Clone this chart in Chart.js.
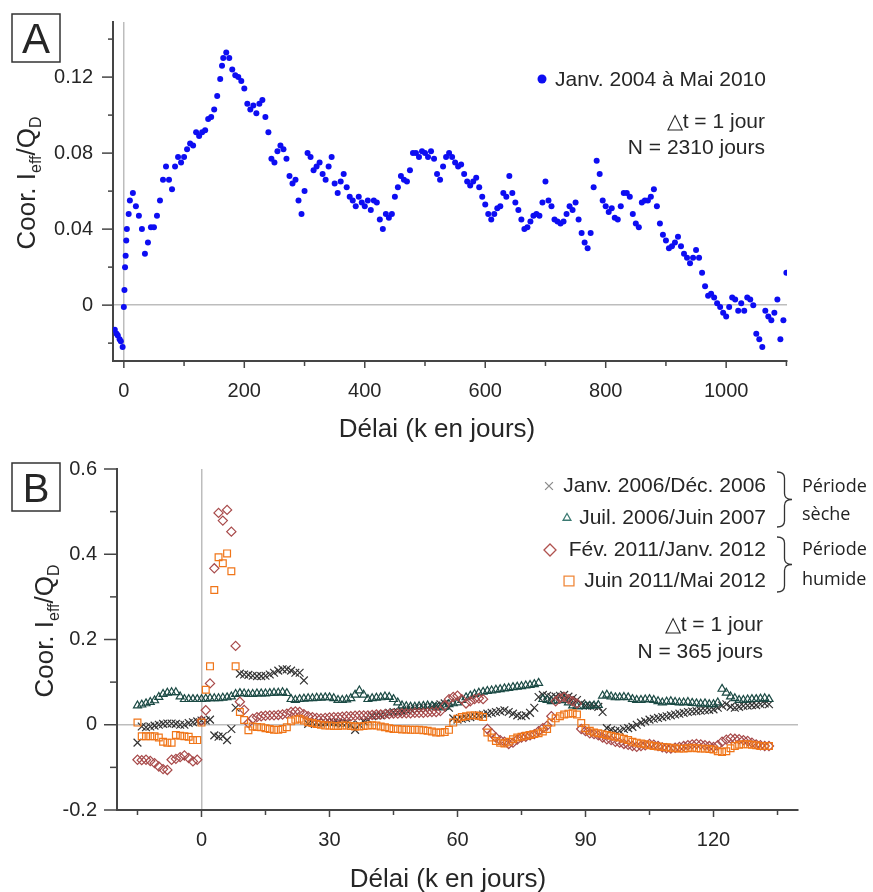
<!DOCTYPE html>
<html>
<head>
<meta charset="utf-8">
<script src="https://cdn.jsdelivr.net/npm/chart.js@4.4.0/dist/chart.umd.min.js"></script>
<style>
  body { margin: 0; background: #fff; }
  #wrapA { position: absolute; left: 0; top: 0; width: 873px; height: 450px; }
  #wrapB { position: absolute; left: 0; top: 450px; width: 873px; height: 442px; }
</style>
</head>
<body>
<div id="wrapA"><canvas id="chartA"></canvas></div>
<div id="wrapB"><canvas id="chartB"></canvas></div>
<script>
// ---- panel A : Janv. 2004 a Mai 2010, lag in days ----
const lagsA = [
  -15, -12, -10, -7, -5, -2, 0, 1, 2, 3,
  4, 5, 8, 10, 15, 20, 25, 30, 35, 40,
  45, 50, 55, 60, 65, 70, 75, 80, 85, 90,
  95, 100, 105, 110, 115, 120, 125, 130, 135, 140,
  145, 150, 155, 160, 163, 165, 170, 175, 180, 185,
  190, 195, 200, 205, 210, 215, 220, 225, 230, 235,
  240, 245, 250, 255, 260, 265, 270, 275, 280, 285,
  290, 295, 300, 305, 310, 315, 320, 325, 330, 335,
  340, 345, 350, 355, 360, 365, 370, 375, 380, 385,
  390, 395, 400, 405, 410, 415, 420, 425, 430, 435,
  440, 445, 450, 455, 460, 465, 470, 475, 480, 485,
  490, 495, 500, 505, 510, 515, 520, 525, 530, 535,
  540, 545, 550, 555, 560, 565, 570, 575, 580, 585,
  590, 595, 600, 605, 610, 615, 620, 625, 630, 635,
  640, 645, 650, 655, 660, 665, 670, 675, 680, 685,
  690, 695, 700, 705, 710, 715, 720, 725, 730, 735,
  740, 745, 750, 755, 760, 765, 770, 775, 780, 785,
  790, 795, 800, 805, 810, 815, 820, 825, 830, 835,
  840, 845, 850, 855, 860, 865, 870, 875, 880, 885,
  890, 895, 900, 905, 910, 915, 920, 925, 930, 935,
  940, 945, 950, 955, 960, 965, 970, 975, 980, 985,
  990, 995, 1000, 1005, 1010, 1015, 1020, 1025, 1030, 1035,
  1040, 1045, 1050, 1055, 1060, 1065, 1070, 1075, 1080, 1085,
  1090, 1095, 1100
];
const corrA = [
  -0.013, -0.015, -0.016, -0.018, -0.019, -0.022, -0.001, 0.008, 0.02, 0.026,
  0.034, 0.04, 0.048, 0.055, 0.059, 0.052, 0.047, 0.04, 0.027, 0.033,
  0.041, 0.041, 0.047, 0.055, 0.066, 0.073, 0.066, 0.061, 0.073, 0.078,
  0.075, 0.078, 0.082, 0.085, 0.084, 0.091, 0.089, 0.091, 0.092, 0.098,
  0.099, 0.103, 0.11, 0.119, 0.126, 0.13, 0.133, 0.13, 0.124, 0.121,
  0.12, 0.118, 0.114, 0.106, 0.103, 0.105, 0.101, 0.106, 0.108, 0.099,
  0.091, 0.077, 0.075, 0.081, 0.084, 0.082, 0.077, 0.068, 0.064, 0.066,
  0.055, 0.048, 0.06, 0.08, 0.078, 0.071, 0.073, 0.075, 0.069, 0.066,
  0.073, 0.078, 0.064, 0.059, 0.065, 0.069, 0.062, 0.057, 0.055, 0.052,
  0.057, 0.054, 0.052, 0.055, 0.05, 0.055, 0.054, 0.045, 0.04, 0.048,
  0.046, 0.048, 0.057, 0.062, 0.068, 0.066, 0.065, 0.071, 0.08, 0.08,
  0.078, 0.081, 0.08, 0.078, 0.081, 0.077, 0.069, 0.066, 0.073, 0.078,
  0.08, 0.078, 0.075, 0.073, 0.074, 0.069, 0.065, 0.063, 0.065, 0.067,
  0.062, 0.057, 0.053, 0.048, 0.045, 0.048, 0.051, 0.052, 0.059, 0.057,
  0.068, 0.059, 0.054, 0.05, 0.045, 0.04, 0.041, 0.044, 0.047, 0.048,
  0.047, 0.054, 0.065, 0.055, 0.052, 0.045, 0.044, 0.043, 0.044, 0.048,
  0.052, 0.05, 0.054, 0.045, 0.038, 0.033, 0.03, 0.038, 0.062, 0.076,
  0.069, 0.055, 0.052, 0.049, 0.051, 0.046, 0.045, 0.052, 0.059, 0.059,
  0.057, 0.048, 0.043, 0.041, 0.054, 0.055, 0.055, 0.057, 0.061, 0.052,
  0.043, 0.037, 0.034, 0.03, 0.031, 0.033, 0.036, 0.031, 0.027, 0.025,
  0.022, 0.025, 0.029, 0.025, 0.017, 0.01, 0.005, 0.006, 0.004, 0.001,
  -0.001, -0.004, -0.006, -0.001, 0.004, 0.003, -0.003, 0.001, -0.003, 0.004,
  0.003, 0, -0.015, -0.018, -0.022, -0.003, -0.006, -0.008, -0.004, 0.003,
  -0.018, -0.008, 0.017
];

// ---- panel B : four one-year windows, lag in days ----
const lagsB = [
  -15, -14, -13, -12, -11, -10, -9, -8, -7, -6,
  -5, -4, -3, -2, -1, 0, 1, 2, 3, 4,
  5, 6, 7, 8, 9, 10, 11, 12, 13, 14,
  15, 16, 17, 18, 19, 20, 21, 22, 23, 24,
  25, 26, 27, 28, 29, 30, 31, 32, 33, 34,
  35, 36, 37, 38, 39, 40, 41, 42, 43, 44,
  45, 46, 47, 48, 49, 50, 51, 52, 53, 54,
  55, 56, 57, 58, 59, 60, 61, 62, 63, 64,
  65, 66, 67, 68, 69, 70, 71, 72, 73, 74,
  75, 76, 77, 78, 79, 80, 81, 82, 83, 84,
  85, 86, 87, 88, 89, 90, 91, 92, 93, 94,
  95, 96, 97, 98, 99, 100, 101, 102, 103, 104,
  105, 106, 107, 108, 109, 110, 111, 112, 113, 114,
  115, 116, 117, 118, 119, 120, 121, 122, 123, 124,
  125, 126, 127, 128, 129, 130, 131, 132, 133
];
const corrJan2006 = [
  -0.042, -0.004, -0.006, -0.004, -0.002, 0, 0.002, 0.003, 0.003, 0.002,
  0, 0, 0.004, 0.006, 0.008, 0.01, 0.01, 0.012, -0.025, -0.028,
  -0.027, -0.036, -0.01, 0.04, 0.12, 0.118, 0.117, 0.115, 0.114, 0.114,
  0.115, 0.118, 0.122, 0.127, 0.13, 0.13, 0.127, 0.122, 0.122, 0.104,
  0.002, 0.006, 0.005, 0.004, 0.005, 0.006, 0.005, 0.004, 0.003, 0.004,
  0, -0.012, 0, 0.008, 0.012, 0.02, 0.022, 0.022, 0.025, 0.028,
  0.03, 0.03, 0.032, 0.034, 0.036, 0.038, 0.038, 0.04, 0.04, 0.042,
  0.045, 0.048, 0.05, 0.04, 0.015, 0.012, 0.014, 0.016, 0.018, 0.02,
  0.022, 0.024, 0.026, 0.028, 0.03, 0.032, 0.034, 0.03, 0.026, 0.022,
  0.02, 0.022, 0.028, 0.04, 0.065, 0.07, 0.068, 0.065, 0.066, 0.068,
  0.07, 0.066, 0.062, 0.058, 0.05, 0.045, 0.045, 0.044, 0.042, 0.03,
  -0.008, -0.012, -0.015, -0.014, -0.01, -0.008, -0.005, 0, 0.005, 0.008,
  0.012, 0.014, 0.016, 0.018, 0.02, 0.022, 0.024, 0.026, 0.028, 0.03,
  0.031, 0.032, 0.033, 0.034, 0.035, 0.036, 0.04, 0.045, 0.048, 0.042,
  0.04, 0.042, 0.044, 0.045, 0.046, 0.046, 0.048, 0.05, 0.048
];
const corrJul2006 = [
  0.045, 0.047, 0.05, 0.053, 0.057, 0.065, 0.072, 0.075, 0.076, 0.076,
  0.066, 0.06, 0.06, 0.06, 0.06, 0.06, 0.061, 0.062, 0.062, 0.062,
  0.063, 0.064, 0.066, 0.072, 0.074, 0.073, 0.072, 0.072, 0.073, 0.073,
  0.073, 0.074, 0.075, 0.075, 0.076, 0.074, 0.06, 0.058, 0.06, 0.061,
  0.062, 0.062, 0.063, 0.063, 0.064, 0.064, 0.062, 0.058, 0.058, 0.059,
  0.062, 0.07, 0.08, 0.07, 0.06, 0.062, 0.063, 0.064, 0.066, 0.065,
  0.06, 0.052, 0.045, 0.043, 0.042, 0.042, 0.043, 0.044, 0.045, 0.044,
  0.042, 0.04, 0.042, 0.048, 0.05, 0.052, 0.058, 0.064, 0.068, 0.072,
  0.075, 0.077, 0.079, 0.08, 0.082, 0.083, 0.085, 0.086, 0.088, 0.089,
  0.09, 0.092, 0.093, 0.095, 0.098, 0.06, 0.058, 0.055, 0.056, 0.057,
  0.058, 0.052, 0.045, 0.043, 0.043, 0.044, 0.044, 0.045, 0.046, 0.068,
  0.07, 0.066, 0.064, 0.064, 0.065, 0.064, 0.06, 0.058, 0.058, 0.059,
  0.06, 0.058, 0.055, 0.052, 0.054, 0.055, 0.053, 0.052, 0.052, 0.053,
  0.051, 0.05, 0.049, 0.05, 0.048, 0.048, 0.052, 0.084, 0.075, 0.066,
  0.062, 0.058, 0.058, 0.059, 0.06, 0.06, 0.061, 0.062, 0.06
];
const corrFev2011 = [
  -0.082, -0.083, -0.082, -0.085, -0.09, -0.098, -0.104, -0.106, -0.082, -0.08,
  -0.076, -0.072, -0.078, -0.086, -0.082, 0.01, 0.034, 0.097, 0.367, 0.497,
  0.479, 0.504, 0.453, 0.185, 0.054, 0.035, 0.004, 0.014, 0.018, 0.02,
  0.021, 0.022, 0.022, 0.023, 0.024, 0.026, 0.03, 0.031, 0.03, 0.025,
  0.02, 0.018, 0.016, 0.015, 0.016, 0.017, 0.018, 0.018, 0.019, 0.02,
  0.02, 0.021, 0.022, 0.022, 0.022, 0.023, 0.024, 0.024, 0.025, 0.025,
  0.026, 0.026, 0.027, 0.027, 0.027, 0.028, 0.028, 0.028, 0.029, 0.03,
  0.03, 0.032, 0.045, 0.06, 0.065, 0.068, 0.06, 0.05, 0.055, 0.06,
  0.062, 0.06, -0.01, -0.02, -0.03, -0.036, -0.04, -0.045, -0.042, -0.035,
  -0.03, -0.028, -0.025, -0.022, -0.015, -0.008, -0.002, 0.02, 0.055, 0.062,
  0.065, 0.06, 0.055, 0.05, -0.01, -0.015, -0.02, -0.022, -0.025, -0.03,
  -0.034, -0.036, -0.04, -0.042, -0.045, -0.047, -0.05, -0.052, -0.05, -0.048,
  -0.045, -0.047, -0.05, -0.053, -0.055, -0.056, -0.054, -0.052, -0.05, -0.048,
  -0.046, -0.045, -0.046, -0.048, -0.05, -0.052, -0.048, -0.04, -0.035, -0.032,
  -0.033, -0.034, -0.036, -0.038, -0.042, -0.046, -0.048, -0.05, -0.05
];
const corrJuin2011 = [
  0.005, -0.027, -0.027, -0.027, -0.027, -0.03, -0.04, -0.042, -0.042, -0.024,
  -0.026, -0.027, -0.028, -0.036, -0.036, 0.005, 0.082, 0.137, 0.316, 0.393,
  0.379, 0.402, 0.36, 0.137, 0.03, 0.011, -0.013, -0.004, -0.005, -0.006,
  -0.008, -0.01, -0.012, -0.012, -0.01, -0.006, 0.008, 0.012, 0.014, 0.01,
  0.006, 0.004, 0.002, 0, -0.002, -0.002, -0.003, -0.003, -0.002, -0.002,
  -0.003, -0.004, -0.004, -0.003, -0.002, -0.001, -0.002, -0.004, -0.006, -0.008,
  -0.01, -0.01, -0.011, -0.011, -0.012, -0.012, -0.012, -0.013, -0.014, -0.016,
  -0.018, -0.018, -0.017, -0.012, 0.005, 0.014, 0.018, 0.02, 0.022, 0.022,
  0.021, 0.018, -0.018, -0.03, -0.038, -0.042, -0.044, -0.04, -0.034, -0.03,
  -0.028, -0.026, -0.024, -0.022, -0.02, -0.016, -0.01, 0.005, 0.015, 0.02,
  0.024, 0.026, 0.027, 0.024, 0.004, -0.008, -0.014, -0.018, -0.02, -0.022,
  -0.024, -0.026, -0.028, -0.03, -0.033, -0.036, -0.04, -0.042, -0.044, -0.046,
  -0.048, -0.05, -0.051, -0.052, -0.053, -0.054, -0.055, -0.056, -0.056, -0.055,
  -0.054, -0.055, -0.056, -0.056, -0.057, -0.058, -0.062, -0.064, -0.062, -0.055,
  -0.05, -0.047, -0.046, -0.046, -0.047, -0.048, -0.05, -0.05, -0.05
];

// tick positions and which of them carry a label
const ticksAx = [0, 100, 200, 300, 400, 500, 600, 700, 800, 900, 1000, 1100];
const labelsAx = [0, 200, 400, 600, 800, 1000];
const ticksAy = [-0.02, 0, 0.02, 0.04, 0.06, 0.08, 0.1, 0.12, 0.14];
const labelsAy = [0, 0.04, 0.08, 0.12];
const ticksBx = [-15, 0, 15, 30, 45, 60, 75, 90, 105, 120, 135];
const labelsBx = [0, 30, 60, 90, 120];
const ticksBy = [-0.2, -0.1, 0, 0.1, 0.2, 0.3, 0.4, 0.5, 0.6];
const labelsBy = [-0.2, 0, 0.2, 0.4, 0.6];

const FONT = "'Liberation Sans', Arial, sans-serif";
const INK = "#262626";
const AXIS = "#454545";

function pts(xs, ys) {
  return xs.map((x, i) => ({ x: x, y: ys[i] }));
}

function axis(dir, min, max, tickVals, labelVals, fixed) {
  return {
    type: "linear",
    min: min,
    max: max,
    afterBuildTicks: s => { s.ticks = tickVals.map(v => ({ value: v })); },
    afterFit: s => {
      // fixed axis size, and no extra room asked for the end labels
      if (dir === "x") { s.height = fixed; s.paddingLeft = 0; s.paddingRight = 0; }
      else { s.width = fixed; s.paddingTop = 0; s.paddingBottom = 0; }
    },
    grid: {
      drawTicks: false,
      lineWidth: 1.5,
      color: c => (c.tick && c.tick.value === 0 ? "#bdbdbd" : "rgba(0,0,0,0)")
    },
    border: { color: AXIS, width: 2 },
    ticks: {
      padding: dir === "x" ? 18 : 20,
      autoSkip: false,
      maxRotation: 0,
      color: INK,
      font: { family: FONT, size: 20 },
      callback: v => (labelVals.includes(v) ? String(v) : "")
    }
  };
}

// outward tick marks, long ones where a label sits
const tickMarks = {
  id: "tickMarks",
  afterDraw(chart, args, opts) {
    const c = chart.ctx;
    c.save();
    c.strokeStyle = AXIS;
    c.lineWidth = 1.5;
    ["x", "y"].forEach(id => {
      const s = chart.scales[id];
      s.ticks.forEach(t => {
        const len = t.label !== "" ? opts[id][0] : opts[id][1];
        const p = s.getPixelForValue(t.value);
        c.beginPath();
        if (id === "x") { c.moveTo(p, s.top); c.lineTo(p, s.top + len); }
        else { c.moveTo(s.right, p); c.lineTo(s.right - len, p); }
        c.stroke();
      });
    });
    c.restore();
  }
};

function text(c, s, x, y, size, align, family, color) {
  c.font = size + "px " + (family || FONT);
  c.fillStyle = color || INK;
  c.textAlign = align || "left";
  c.textBaseline = "alphabetic";
  c.fillText(s, x, y);
}

function yTitle(c, bx, cy) {
  const parts = [["Coor. I", 26, 0], ["eff", 16, 6], ["/Q", 26, 0], ["D", 16, 6]];
  c.save();
  c.translate(bx, cy);
  c.rotate(-Math.PI / 2);
  let w = 0;
  parts.forEach(p => { c.font = p[1] + "px " + FONT; w += c.measureText(p[0]).width; });
  let x = -w / 2;
  c.fillStyle = INK;
  c.textBaseline = "alphabetic";
  c.textAlign = "left";
  parts.forEach(p => {
    c.font = p[1] + "px " + FONT;
    c.fillText(p[0], x, p[2]);
    x += c.measureText(p[0]).width;
  });
  c.restore();
}

function panelBox(c, letter, x, y, size) {
  c.save();
  c.strokeStyle = "#333";
  c.lineWidth = 1.5;
  c.strokeRect(x, y, 48, 48);
  text(c, letter, x + 24, y + 39, size, "center");
  c.restore();
}

function brace(c, x, top, bottom, w) {
  const mid = (top + bottom) / 2, r = 6, xm = x + w * 0.5;
  c.beginPath();
  c.moveTo(x, top);
  c.quadraticCurveTo(xm, top, xm, top + r);
  c.lineTo(xm, mid - r);
  c.quadraticCurveTo(xm, mid, x + w, mid);
  c.quadraticCurveTo(xm, mid, xm, mid + r);
  c.lineTo(xm, bottom - r);
  c.quadraticCurveTo(xm, bottom, x, bottom);
  c.stroke();
}

const decorA = {
  id: "decorA",
  afterDraw(chart) {
    const c = chart.ctx;
    c.save();
    panelBox(c, "A", 12, 14, 42);
    yTitle(c, 35, 183);
    text(c, "Délai (k en jours)", 437, 437, 26, "center");
    c.fillStyle = "#0d0df2";
    c.beginPath(); c.arc(542, 79, 4.5, 0, Math.PI * 2); c.fill();
    text(c, "Janv. 2004 à Mai 2010", 555, 86, 21);
    text(c, "△t = 1 jour", 765, 128, 21, "right");
    text(c, "N = 2310 jours", 765, 154, 21, "right");
    c.restore();
  }
};

const legendB = [
  { label: "Janv. 2006/Déc. 2006", style: "crossRot", color: "#8c8c8c", r: 5.5, mx: 549, y: 42 },
  { label: "Juil. 2006/Juin 2007", style: "triangle", color: "#3b7a72", r: 4.5, mx: 567, y: 74 },
  { label: "Fév. 2011/Janv. 2012", style: "rectRot", color: "#b0524f", r: 6, mx: 550, y: 106 },
  { label: "Juin 2011/Mai 2012", style: "rect", color: "#f0883a", r: 7, mx: 569, y: 137 }
];

const decorB = {
  id: "decorB",
  afterDraw(chart) {
    const c = chart.ctx;
    c.save();
    panelBox(c, "B", 12, 13, 40);
    yTitle(c, 53, 181);
    text(c, "Délai (k en jours)", 448, 437, 26, "center");
    legendB.forEach(e => {
      text(c, e.label, 766, e.y, 21, "right");
      c.strokeStyle = e.color;
      c.fillStyle = "rgba(0,0,0,0)";
      c.lineWidth = 1.3;
      Chart.helpers.drawPoint(c, { pointStyle: e.style, radius: e.r, borderWidth: 1.3, rotation: 0 }, e.mx, e.y - 6);
    });
    c.strokeStyle = "#333";
    c.lineWidth = 1.3;
    brace(c, 777, 22, 77, 15);
    brace(c, 777, 87, 142, 15);
    const side = "'Open Sans', 'Noto Sans', sans-serif";
    text(c, "Période", 802, 42, 18, "left", side, "#222");
    text(c, "sèche", 802, 70, 18, "left", side, "#222");
    text(c, "Période", 802, 105, 18, "left", side, "#222");
    text(c, "humide", 802, 135, 18, "left", side, "#222");
    text(c, "△t = 1 jour", 763, 181, 21, "right");
    text(c, "N = 365 jours", 763, 208, 21, "right");
    c.restore();
  }
};

const common = {
  responsive: true,
  maintainAspectRatio: false,
  animation: false,
  events: [],
  plugins: { legend: { display: false }, tooltip: { enabled: false } }
};

new Chart(document.getElementById("chartA"), {
  type: "scatter",
  data: {
    datasets: [{
      label: "Janv. 2004 à Mai 2010",
      data: pts(lagsA, corrA),
      pointRadius: 3,
      pointBorderWidth: 0,
      pointBackgroundColor: "#0d0df2"
    }]
  },
  options: Object.assign({}, common, {
    layout: { padding: { left: 53, right: 86, top: 22, bottom: 49 } },
    scales: {
      x: axis("x", -18, 1101, ticksAx, labelsAx, 40),
      y: axis("y", -0.0294, 0.149, ticksAy, labelsAy, 60)
    },
    plugins: Object.assign({}, common.plugins, { tickMarks: { x: [7, 5], y: [11, 5] } })
  }),
  plugins: [tickMarks, decorA]
});

const dsB = (label, ys, style, color, r, order) => ({
  label: label,
  data: pts(lagsB, ys),
  pointStyle: style,
  pointRadius: r,
  pointBorderWidth: 1.2,
  pointBorderColor: color,
  pointBackgroundColor: "rgba(0,0,0,0)",
  order: order
});

new Chart(document.getElementById("chartB"), {
  type: "scatter",
  data: {
    datasets: [
      dsB("Janv. 2006/Déc. 2006", corrJan2006, "crossRot", "#333333", 5.5, 4),
      dsB("Juil. 2006/Juin 2007", corrJul2006, "triangle", "#1b4a44", 4.6, 3),
      dsB("Fév. 2011/Janv. 2012", corrFev2011, "rectRot", "#a84a4a", 4.6, 2),
      dsB("Juin 2011/Mai 2012", corrJuin2011, "rect", "#f07518", 4.8, 1)
    ]
  },
  options: Object.assign({}, common, {
    layout: { padding: { left: 57, right: 75, top: 19, bottom: 42 } },
    scales: {
      x: axis("x", -19.8, 139.8, ticksBx, labelsBx, 40),
      y: axis("y", -0.2, 0.6, ticksBy, labelsBy, 60)
    },
    plugins: Object.assign({}, common.plugins, { tickMarks: { x: [7, 5], y: [13, 7] } })
  }),
  plugins: [tickMarks, decorB]
});
</script>
</body>
</html>
